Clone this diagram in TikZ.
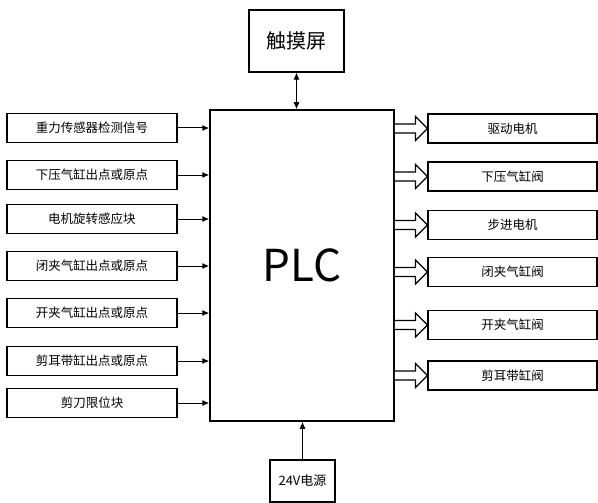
\documentclass[tikz,border=0pt]{standalone}
\usepackage{fontspec}
\setmainfont{Noto Sans CJK SC}
\usetikzlibrary{arrows.meta,calc}
\tikzset{
  box/.style={draw, line width=1.1pt, minimum height=29pt, inner sep=0pt, font=\fontsize{12.5}{14}\selectfont},
  inbox/.style={box, minimum width=170pt},
  outbox/.style={box, minimum width=169pt},
  sig/.style={line width=1pt, -{Latex[length=7pt,width=6pt]}},
  hollow/.style={draw, line width=1.2pt, fill=white, line join=miter},
}
\begin{document}
\begin{tikzpicture}[x=1pt, y=-1pt]
\useasboundingbox (0,0) rectangle (598,503);

% controller
\node[draw, line width=1.5pt, minimum width=184pt, minimum height=311pt, inner sep=0pt,
      font=\fontsize{44}{48}\selectfont] (plc) at (302,265.5) {\raisebox{-5pt}{PLC}};

% touch panel and supply
\node[box, minimum width=95pt, minimum height=62pt, font=\fontsize{20}{24}\selectfont] (hmi) at (296.5,41) {触摸屏};
\node[box, minimum width=65pt, minimum height=42pt, font=\fontsize{13}{15}\selectfont] (pwr) at (302.5,481) {24V电源};

% inputs
\node[inbox] (i1) at (92,128) {重力传感器检测信号};
\node[inbox] (i2) at (92,175) {下压气缸出点或原点};
\node[inbox] (i3) at (92,219) {电机旋转感应块};
\node[inbox] (i4) at (92,266) {闭夹气缸出点或原点};
\node[inbox] (i5) at (92,313) {开夹气缸出点或原点};
\node[inbox] (i6) at (92,361) {剪耳带缸出点或原点};
\node[inbox] (i7) at (92,403) {剪刀限位块};

% outputs
\node[outbox] (o1) at (512.5,128.5) {驱动电机};
\node[outbox] (o2) at (512.5,176.5) {下压气缸阀};
\node[outbox] (o3) at (512.5,225) {步进电机};
\node[outbox] (o4) at (512.5,272) {闭夹气缸阀};
\node[outbox] (o5) at (512.5,325) {开夹气缸阀};
\node[outbox] (o6) at (512.5,375.5) {剪耳带缸阀};

% input signals
\foreach \i in {1,...,7}
  \draw[sig] (i\i.east) -- (i\i.east -| plc.west);

% output signals as hollow block arrows
\foreach \o in {1,...,6}
  \draw[hollow] (o\o.west -| plc.east) ++(0,-4.5) -- ($(o\o.west)+(-12,-4.5)$)
     -- ($(o\o.west)+(-12,-12)$) -- (o\o.west) -- ($(o\o.west)+(-12,12)$)
     -- ($(o\o.west)+(-12,4.5)$) -- ($(o\o.west -| plc.east)+(0,4.5)$);

% links to panel and supply
\draw[line width=1pt, {Latex[length=7pt,width=6pt]}-{Latex[length=7pt,width=6pt]}] (hmi.south) -- (hmi.south |- plc.north);
\draw[sig] (pwr.north) -- (pwr.north |- plc.south);
\end{tikzpicture}
\end{document}
